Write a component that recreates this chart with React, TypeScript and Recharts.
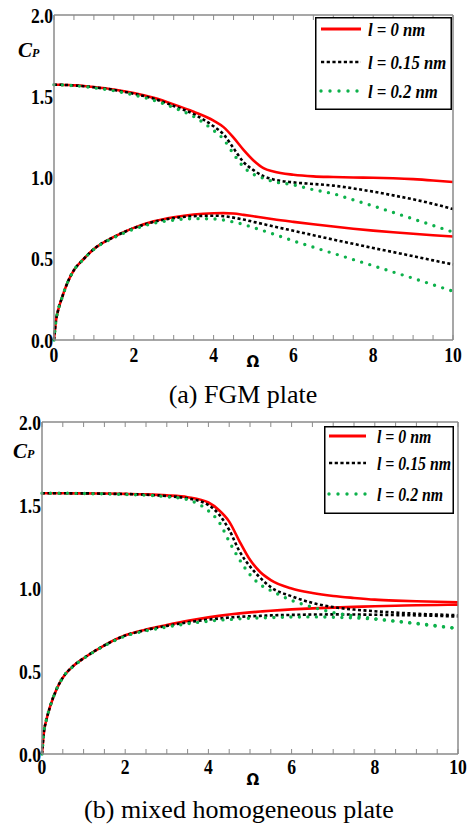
import React from "react";
import { LineChart, Line, XAxis, YAxis } from "recharts";

// shared frequency grid (Ω)
const omega = [0, 0.05, 0.1, 0.2, 0.35, 0.5, 0.75, 1, 1.5, 2, 2.5, 3, 3.5, 4, 4.25, 4.5, 4.75, 5, 5.25, 5.5, 6, 6.5, 7, 7.5, 8, 8.5, 9, 9.5, 10];

// (a) FGM plate
const fgmUpperL0 = [1.571, 1.571, 1.571, 1.57, 1.569, 1.567, 1.563, 1.557, 1.542, 1.52, 1.49, 1.45, 1.405, 1.35, 1.31, 1.245, 1.17, 1.105, 1.058, 1.037, 1.017, 1.007, 1.003, 1.0, 0.998, 0.995, 0.99, 0.982, 0.972];
const fgmUpperL15 = [1.571, 1.571, 1.571, 1.57, 1.569, 1.566, 1.562, 1.555, 1.539, 1.515, 1.485, 1.44, 1.39, 1.315, 1.265, 1.18, 1.095, 1.045, 1.008, 0.988, 0.97, 0.96, 0.95, 0.933, 0.913, 0.89, 0.866, 0.838, 0.806];
const fgmUpperL20 = [1.571, 1.571, 1.571, 1.57, 1.568, 1.565, 1.56, 1.552, 1.534, 1.508, 1.475, 1.43, 1.375, 1.29, 1.235, 1.145, 1.065, 1.02, 0.995, 0.975, 0.955, 0.925, 0.9, 0.862, 0.825, 0.785, 0.745, 0.705, 0.664];
const fgmLowerL0 = [0, 0.12, 0.18, 0.26, 0.36, 0.43, 0.5, 0.56, 0.635, 0.69, 0.73, 0.755, 0.772, 0.78, 0.781, 0.778, 0.77, 0.761, 0.752, 0.743, 0.727, 0.712, 0.698, 0.685, 0.673, 0.663, 0.654, 0.645, 0.637];
const fgmLowerL15 = [0, 0.12, 0.18, 0.26, 0.36, 0.43, 0.5, 0.56, 0.634, 0.688, 0.727, 0.75, 0.762, 0.765, 0.762, 0.753, 0.741, 0.727, 0.713, 0.699, 0.672, 0.645, 0.618, 0.592, 0.566, 0.541, 0.516, 0.49, 0.465];
const fgmLowerL20 = [0, 0.12, 0.18, 0.26, 0.36, 0.43, 0.5, 0.558, 0.63, 0.682, 0.718, 0.738, 0.747, 0.745, 0.738, 0.726, 0.711, 0.692, 0.672, 0.652, 0.61, 0.571, 0.533, 0.495, 0.457, 0.418, 0.38, 0.34, 0.3];

// (b) mixed homogeneous plate
const mixUpperL0 = [1.571, 1.571, 1.571, 1.571, 1.571, 1.571, 1.57, 1.57, 1.569, 1.567, 1.564, 1.558, 1.547, 1.515, 1.47, 1.4, 1.28, 1.17, 1.095, 1.048, 0.997, 0.97, 0.952, 0.94, 0.93, 0.924, 0.92, 0.917, 0.914];
const mixUpperL15 = [1.571, 1.571, 1.571, 1.571, 1.571, 1.571, 1.57, 1.57, 1.568, 1.566, 1.562, 1.554, 1.54, 1.5, 1.445, 1.35, 1.22, 1.13, 1.06, 1.005, 0.95, 0.91, 0.885, 0.87, 0.86, 0.852, 0.845, 0.84, 0.836];
const mixUpperL20 = [1.571, 1.571, 1.571, 1.571, 1.571, 1.571, 1.57, 1.569, 1.567, 1.564, 1.559, 1.55, 1.532, 1.465, 1.4, 1.28, 1.17, 1.08, 1.02, 0.985, 0.925, 0.885, 0.852, 0.832, 0.815, 0.8, 0.785, 0.77, 0.756];
const mixLowerL0 = [0, 0.14, 0.2, 0.29, 0.39, 0.46, 0.53, 0.577, 0.655, 0.715, 0.75, 0.777, 0.802, 0.823, 0.832, 0.84, 0.847, 0.853, 0.858, 0.863, 0.871, 0.877, 0.882, 0.886, 0.89, 0.893, 0.896, 0.898, 0.9];
const mixLowerL15 = [0, 0.14, 0.2, 0.29, 0.39, 0.46, 0.53, 0.577, 0.654, 0.713, 0.747, 0.772, 0.793, 0.81, 0.816, 0.822, 0.826, 0.83, 0.832, 0.835, 0.838, 0.84, 0.841, 0.84, 0.839, 0.837, 0.835, 0.832, 0.828];
const mixLowerL20 = [0, 0.14, 0.2, 0.29, 0.39, 0.46, 0.528, 0.575, 0.652, 0.71, 0.742, 0.765, 0.785, 0.8, 0.806, 0.81, 0.814, 0.818, 0.82, 0.822, 0.825, 0.826, 0.824, 0.82, 0.812, 0.8, 0.787, 0.772, 0.755];

const xTicks = [0, 2, 4, 6, 8, 10];
const yTicks = [0, 0.5, 1, 1.5, 2];
const xMinor = [0, 0.5, 1, 1.5, 2, 2.5, 3, 3.5, 4, 4.5, 5, 5.5, 6, 6.5, 7, 7.5, 8, 8.5, 9, 9.5, 10];
const yMinor = [0, 0.1, 0.2, 0.3, 0.4, 0.5, 0.6, 0.7, 0.8, 0.9, 1, 1.1, 1.2, 1.3, 1.4, 1.5, 1.6, 1.7, 1.8, 1.9, 2];
const legendLabels = ["l = 0 nm", "l = 0.15 nm", "l = 0.2 nm"];

const RED = "#ff0000";
const GREEN = "#0db14b";
const FRAME = "#8a8a8a";
const serif = '"Liberation Serif", "DejaVu Serif", "Times New Roman", serif';

const makeRows = (a: number[], b: number[], c: number[], d: number[], e: number[], f: number[]) =>
	omega.map((w, i) => ({ omega: w, u0: a[i], u15: b[i], u20: c[i], d0: d[i], d15: e[i], d20: f[i] }));

const fgmData = makeRows(fgmUpperL0, fgmUpperL15, fgmUpperL20, fgmLowerL0, fgmLowerL15, fgmLowerL20);
const mixData = makeRows(mixUpperL0, mixUpperL15, mixUpperL20, mixLowerL0, mixLowerL15, mixLowerL20);

const YTick = (props: any) => {
	const { x, y, payload } = props;
	return (
		<g transform={`translate(${x},${y})`}>
			<text textAnchor="end" dy={7.5} transform="scale(0.8,1)" style={{ fontFamily: serif }} fontWeight="bold" fontSize={22} fill="#000">
				{Number(payload.value).toFixed(1)}
			</text>
		</g>
	);
};

const makeXTick = (dy: number) => (props: any) => {
	const { x, y, payload } = props;
	return (
		<g transform={`translate(${x},${y})`}>
			<text textAnchor="middle" dy={dy} transform="scale(0.8,1)" style={{ fontFamily: serif }} fontWeight="bold" fontSize={22} fill="#000">
				{payload.value}
			</text>
		</g>
	);
};

const noTick = () => <g />;

const seriesLines = () => {
	const common = { xAxisId: "m", yAxisId: "m", type: "monotone" as const, dot: false, activeDot: false, isAnimationActive: false };
	return [
		<Line key="u0" {...common} dataKey="u0" stroke={RED} strokeWidth={2.6} />,
		<Line key="d0" {...common} dataKey="d0" stroke={RED} strokeWidth={2.6} />,
		<Line key="u15" {...common} dataKey="u15" stroke="#000" strokeWidth={2.6} strokeDasharray="3 2.5" />,
		<Line key="d15" {...common} dataKey="d15" stroke="#000" strokeWidth={2.6} strokeDasharray="3 2.5" />,
		<Line key="u20" {...common} dataKey="u20" stroke={GREEN} strokeWidth={3.4} strokeDasharray="0 8.5" strokeLinecap="round" />,
		<Line key="d20" {...common} dataKey="d20" stroke={GREEN} strokeWidth={3.4} strokeDasharray="0 8.5" strokeLinecap="round" />,
	];
};

type PanelProps = {
	data: any[];
	height: number;
	margin: { top: number; right: number; left: number; bottom: number };
	yWidth: number;
	xDy: number;
	cp: { x: number; y: number };
	om: { x: number; y: number };
};

const Panel = ({ data, height, margin, yWidth, xDy, cp, om }: PanelProps) => (
	<LineChart width={467} height={height} data={data} margin={margin}>
		<XAxis
			xAxisId="m"
			dataKey="omega"
			type="number"
			domain={[0, 10]}
			ticks={xTicks}
			interval={0}
			tickLine={false}
			tickSize={0}
			tickMargin={0}
			height={30}
			axisLine={{ stroke: FRAME, strokeWidth: 1.5 }}
			tick={makeXTick(xDy)}
			label={{
				content: () => (
					<text x={om.x} y={om.y} textAnchor="middle" style={{ fontFamily: '"DejaVu Sans", sans-serif' }} fontWeight="bold" fontSize={15}>
						Ω
					</text>
				),
			}}
		/>
		<XAxis xAxisId="mb" dataKey="omega" type="number" domain={[0, 10]} ticks={xMinor} interval={0} orientation="bottom" mirror axisLine={false} tickSize={5} tickLine={{ stroke: FRAME }} tick={noTick} />
		<XAxis xAxisId="mt" dataKey="omega" type="number" domain={[0, 10]} ticks={xMinor} interval={0} orientation="top" mirror axisLine={{ stroke: FRAME, strokeWidth: 1.5 }} tickSize={5} tickLine={{ stroke: FRAME }} tick={noTick} />
		<YAxis
			yAxisId="m"
			type="number"
			domain={[0, 2]}
			ticks={yTicks}
			interval={0}
			width={yWidth}
			tickLine={false}
			tickSize={0}
			tickMargin={1}
			axisLine={{ stroke: FRAME, strokeWidth: 1.5 }}
			tick={YTick}
			label={{
				content: () => (
					<text x={cp.x} y={cp.y} style={{ fontFamily: serif }} fontWeight="bold" fontStyle="italic">
						<tspan fontSize={21}>C</tspan>
						<tspan fontSize={12}>P</tspan>
					</text>
				),
			}}
		/>
		<YAxis yAxisId="ml" type="number" domain={[0, 2]} ticks={yMinor} interval={0} orientation="left" mirror axisLine={false} tickSize={5} tickLine={{ stroke: FRAME }} tick={noTick} />
		<YAxis yAxisId="mr" type="number" domain={[0, 2]} ticks={yMinor} interval={0} orientation="right" mirror axisLine={{ stroke: FRAME, strokeWidth: 1.5 }} tickSize={5} tickLine={{ stroke: FRAME }} tick={noTick} />
		{seriesLines()}
	</LineChart>
);

type LegendProps = { left: number; top: number; width: number; height: number; rows: number[]; lineX: [number, number]; textX: number; fontSize: number };

const LegendBox = ({ left, top, width, height, rows, lineX, textX, fontSize }: LegendProps) => (
	<svg width={width} height={height} style={{ position: "absolute", left, top, overflow: "visible" }}>
		<rect x={0.75} y={0.75} width={width - 1.5} height={height - 1.5} fill="#fff" stroke="#000" strokeWidth={1.5} />
		{legendLabels.map((label, i) => {
			const y = rows[i];
			const style =
				i === 0
					? { stroke: RED, strokeWidth: 2.8 }
					: i === 1
					? { stroke: "#000", strokeWidth: 2.4, strokeDasharray: "3.2 2.5" }
					: { stroke: GREEN, strokeWidth: 3.4, strokeDasharray: "0 9", strokeLinecap: "round" as const };
			return (
				<g key={label}>
					<line x1={lineX[0]} x2={lineX[1]} y1={y} y2={y} {...style} />
					<g transform={`translate(${textX},${y + 7})`}>
						<text transform="scale(0.88,1)" style={{ fontFamily: serif }} fontWeight="bold" fontStyle="italic" fontSize={fontSize} fill="#000">
							{label}
						</text>
					</g>
				</g>
			);
		})}
	</svg>
);

const captionStyle = (top: number, cx: number): React.CSSProperties => ({
	position: "absolute",
	top,
	left: cx - 200,
	width: 400,
	textAlign: "center",
	fontFamily: serif,
	fontSize: 26,
	lineHeight: "26px",
	color: "#000",
	whiteSpace: "nowrap",
});

const App = () => (
	<div style={{ position: "absolute", left: 0, top: 0, width: 467, height: 829, background: "#fff" }}>
		<div style={{ position: "absolute", left: 0, top: 0 }}>
			<Panel
				data={fgmData}
				height={376}
				margin={{ top: 15, right: 14, left: 0, bottom: 6 }}
				yWidth={54}
				xDy={22}
				cp={{ x: 18, y: 57 }}
				om={{ x: 253, y: 367 }}
			/>
		</div>
		<LegendBox left={315} top={17} width={137} height={93} rows={[12, 45, 74]} lineX={[6, 46]} textX={53} fontSize={19} />
		<div style={captionStyle(382, 243)}>(a) FGM plate</div>

		<div style={{ position: "absolute", left: 0, top: 410 }}>
			<Panel
				data={mixData}
				height={382}
				margin={{ top: 12, right: 9, left: 0, bottom: 8 }}
				yWidth={42}
				xDy={20}
				cp={{ x: 13, y: 48 }}
				om={{ x: 253, y: 375 }}
			/>
		</div>
		<LegendBox left={324} top={426} width={130} height={88} rows={[10, 37, 68]} lineX={[5, 42]} textX={53} fontSize={18} />
		<div style={captionStyle(797, 239)}>(b) mixed homogeneous plate</div>
	</div>
);

export default App;
